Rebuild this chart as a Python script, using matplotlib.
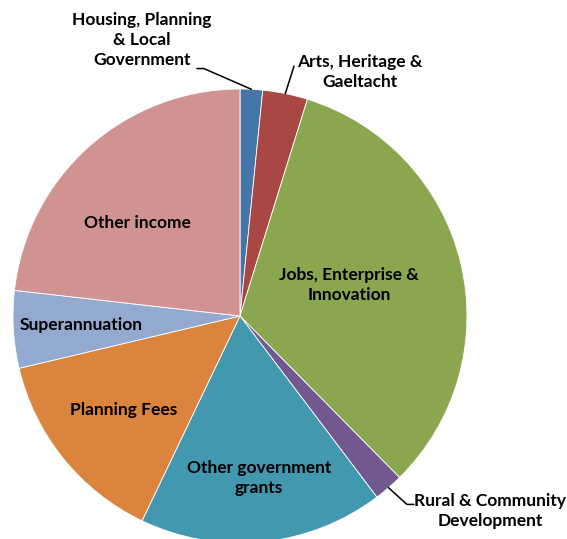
import matplotlib.pyplot as plt
import numpy as np

labels = ["Housing, Planning\n& Local\nGovernment", "Arts, Heritage &\nGaeltacht",
          "Jobs, Enterprise &\nInnovation", "Rural & Community\nDevelopment",
          "Other government\ngrants", "Planning Fees", "Superannuation", "Other income"]
shares = [1.6, 3.2, 32.8, 2.1, 17.4, 14.2, 5.5, 23.2]
colors = ["#4675A8", "#A94744", "#8AA64F", "#71588F", "#4198AF", "#DB843D", "#93A9CF", "#D19392"]

plt.rcParams["font.family"] = ["Lato", "DejaVu Sans"]
fig = plt.figure(figsize=(5.67, 5.39), dpi=100)
ax = fig.add_axes([0, 0, 1, 1])
ax.axis("off")

wedges, _ = ax.pie(shares, colors=colors, startangle=90, counterclock=False,
                   radius=1, wedgeprops=dict(edgecolor="white", linewidth=0.6))
# pixel layout: centre at (240, 316) px, radius 227 px
ax.set_xlim(-240 / 227, 327 / 227)
ax.set_ylim(-223 / 227, 316 / 227)

fs = 12.5
ls = 1.3
# inside labels: radius fraction and angle nudge (deg) for each slice
inner = {2: (0.50, 2), 4: (0.72, 1), 5: (0.66, 0), 6: (0.70, 0), 7: (0.61, 6)}
for i, (r, da) in inner.items():
    w = wedges[i]
    a = np.deg2rad((w.theta1 + w.theta2) / 2 + da)
    ax.text(r * np.cos(a), r * np.sin(a), labels[i], ha="center", va="center",
            fontsize=fs, fontweight="bold", linespacing=ls)


def mid(i):
    w = wedges[i]
    a = np.deg2rad((w.theta1 + w.theta2) / 2)
    return np.cos(a), np.sin(a)


line = dict(arrowstyle="-", color="black", lw=1.1, shrinkA=0, shrinkB=0)

# Housing
ax.text(-0.432, 1.216, labels[0], ha="center", va="center", fontsize=fs,
        fontweight="bold", linespacing=ls)
ax.annotate("", xy=mid(0), xytext=(-0.19, 1.09),
            arrowprops=dict(line, connectionstyle="arc,angleA=0,armA=7,angleB=0,armB=0,rad=0"))
# Arts
ax.text(0.529, 1.075, labels[1], ha="center", va="center", fontsize=fs,
        fontweight="bold", linespacing=ls)
ax.annotate("", xy=mid(1), xytext=(0.238, 1.101), arrowprops=line)
# Rural
ax.text(1.101, -0.86, labels[3], ha="center", va="center", fontsize=fs,
        fontweight="bold", linespacing=ls)
ax.annotate("", xy=mid(3), xytext=(0.766, -0.83),
            arrowprops=dict(line, connectionstyle="arc,angleA=180,armA=7,angleB=0,armB=0,rad=0"))

fig.savefig("out.png", dpi=100)
